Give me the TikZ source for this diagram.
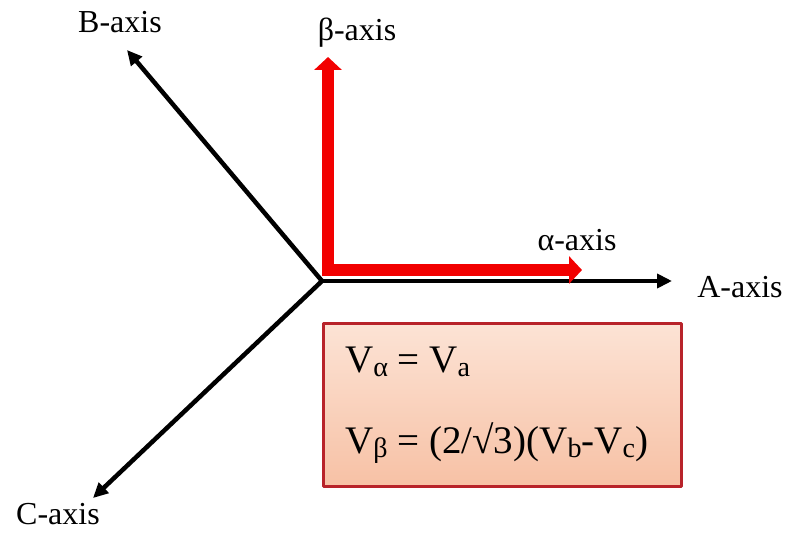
\documentclass[tikz,border=0pt]{standalone}
\usepackage{fontspec}
\setmainfont{Liberation Serif}
\usetikzlibrary{arrows.meta}
\definecolor{boxred}{HTML}{B8232A}
\definecolor{boxtop}{HTML}{FCE3D5}
\definecolor{boxbot}{HTML}{F7C1A5}
\definecolor{axred}{HTML}{F20000}
\newcommand\lowsub[1]{\raisebox{-0.12em}{\scalebox{0.72}{#1}}}
\begin{document}
\begin{tikzpicture}[x=1pt, y=-1pt, font=\fontsize{32}{36}\selectfont, line join=round,
	axis/.style={line width=4.5pt, -{Triangle[length=15pt,width=14pt]}},
	redaxis/.style={axred, line width=12pt, -{Triangle[length=13pt,width=27pt]}},
	lbl/.style={inner sep=0pt},
	eqtext/.style={inner sep=0pt, anchor=base west, font=\fontsize{39}{44}\selectfont}]
	\useasboundingbox (0,0) rectangle (791,534);
	% three phase axes
	\coordinate (O) at (322,281);
	\coordinate (Atip) at (672,281);
	\coordinate (Btip) at (127,50);
	\coordinate (Ctip) at (93,498);
	\draw[axis] (O) -- (Atip);
	\draw[axis] (O) -- (Btip);
	\draw[axis] (O) -- (Ctip);
	\node[lbl] (A) at (740,287) {A-axis};
	\node[lbl] (B) at (120,22) {B-axis};
	\node[lbl] (C) at (58,514) {C-axis};
	% alpha-beta axes
	\coordinate (Or) at (328,270);
	\coordinate (altip) at (582,270);
	\coordinate (betip) at (328,57);
	\draw[redaxis] (328,276) -- (betip);
	\draw[redaxis] (322,270) -- (altip);
	\node[lbl] (al) at (577,240) {α-axis};
	\node[lbl] (be) at (357,33) {β-axis};
	% equations
	\node[draw=boxred, line width=3pt, top color=boxtop, bottom color=boxbot,
		minimum width=358pt, minimum height=163pt] (eq) at (502.5,405) {};
	\node[eqtext] (eq1) at (345,372) {V\lowsub{α} = V\lowsub{a}};
	\node[eqtext] (eq2) at (345,453)
		{V\lowsub{β} = (2/√3)(V\lowsub{b}-V\lowsub{c})};
\end{tikzpicture}
\end{document}
